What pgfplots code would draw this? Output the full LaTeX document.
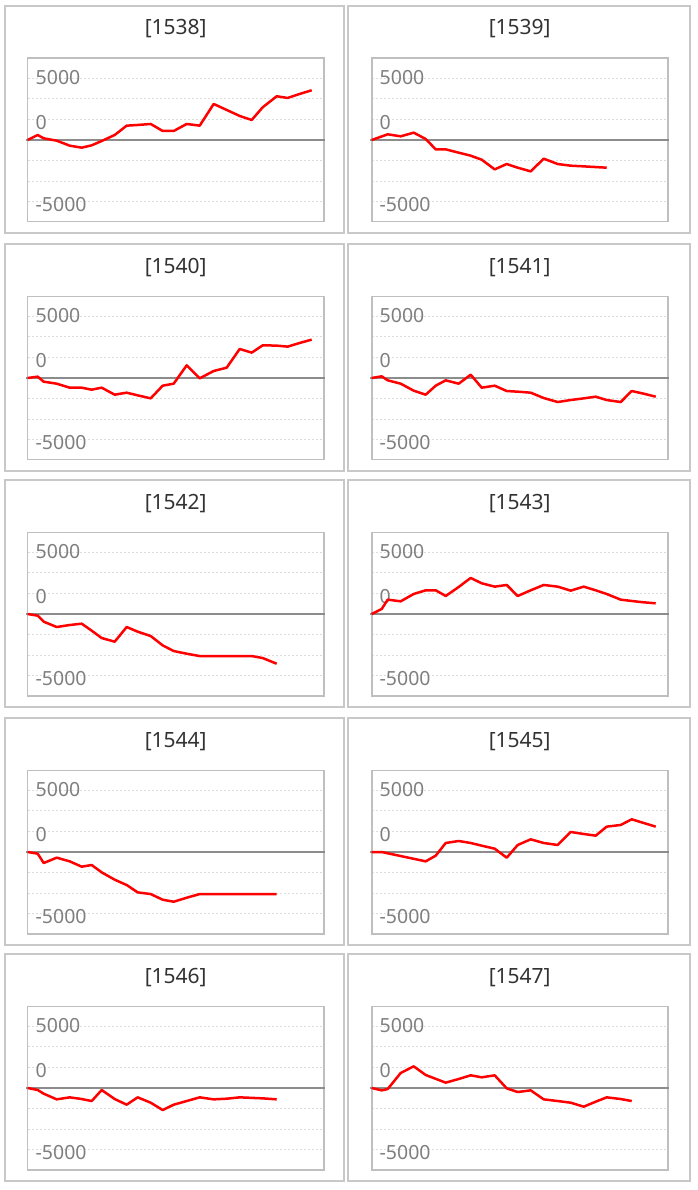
\documentclass[border=0pt]{standalone}
\usepackage{fontspec}
\setmainfont{Noto Sans}
\usepackage{pgfplots}
\pgfplotsset{compat=1.18}
\usepackage{pgfplotstable}
\definecolor{boxgray}{HTML}{C8C8C8}
\definecolor{axgray}{HTML}{BFBFBF}
\definecolor{zerogray}{HTML}{8C8C8C}
\definecolor{gridgray}{HTML}{DCDCDC}
\definecolor{lblgray}{HTML}{7F7F7F}
\definecolor{titlegray}{HTML}{333333}

\pgfplotstableread{
x v
0 0
10 405
16 135
29 -54
42 -459
54 -621
64 -432
74 -81
87 405
99 1161
110 1215
123 1296
135 729
146 729
159 1296
172 1161
186 2916
199 2430
212 1944
224 1620
235 2646
249 3537
260 3402
272 3726
284 4023
}\tA
\pgfplotstableread{
x v
0 0
16 459
29 297
42 594
54 81
64 -756
74 -756
87 -1026
99 -1269
110 -1593
123 -2376
135 -1944
146 -2241
159 -2538
172 -1512
186 -1944
199 -2079
212 -2133
235 -2241
}\tB
\pgfplotstableread{
x v
0 0
10 108
16 -297
29 -459
42 -783
54 -783
64 -945
74 -783
87 -1350
99 -1188
110 -1404
123 -1647
135 -621
146 -459
159 1026
172 -27
186 567
199 837
212 2349
224 2052
235 2646
249 2619
260 2538
272 2835
284 3105
}\tC
\pgfplotstableread{
x v
0 0
10 135
16 -189
29 -459
42 -1026
54 -1350
64 -621
74 -189
87 -459
99 270
110 -783
123 -621
135 -1053
146 -1107
159 -1188
172 -1620
186 -1944
199 -1782
212 -1647
224 -1512
235 -1782
249 -1944
260 -1053
272 -1269
284 -1512
}\tD
\pgfplotstableread{
x v
0 0
10 -135
16 -621
29 -1053
42 -891
54 -783
64 -1350
74 -1944
87 -2241
99 -1053
110 -1431
123 -1782
135 -2538
146 -2997
159 -3213
172 -3402
186 -3402
199 -3402
212 -3402
224 -3402
235 -3564
249 -4023
}\tE
\pgfplotstableread{
x v
0 0
10 405
16 1161
29 1026
42 1620
54 1917
64 1917
74 1458
87 2187
99 2916
110 2484
123 2214
135 2349
146 1458
159 1917
172 2349
186 2214
199 1890
212 2214
224 1917
235 1620
249 1161
260 1053
272 945
284 864
}\tF
\pgfplotstableread{
x v
0 0
10 -135
16 -891
29 -459
42 -756
54 -1188
64 -1053
74 -1647
87 -2241
99 -2673
110 -3267
123 -3402
135 -3861
146 -4023
159 -3699
172 -3402
186 -3402
199 -3402
212 -3402
224 -3402
235 -3402
249 -3402
}\tG
\pgfplotstableread{
x v
0 0
10 0
54 -756
64 -297
74 729
87 891
99 729
110 513
123 270
135 -459
146 567
159 1026
172 729
186 567
199 1620
212 1458
224 1323
235 2052
249 2187
260 2646
272 2349
284 2052
}\tH
\pgfplotstableread{
x v
0 0
10 -162
16 -459
29 -918
42 -756
54 -891
64 -1053
74 -162
87 -891
99 -1350
110 -756
123 -1188
135 -1782
146 -1350
159 -1053
172 -756
186 -918
199 -864
212 -756
235 -837
249 -918
}\tI
\pgfplotstableread{
x v
0 0
10 -189
16 -81
29 1215
42 1755
54 1053
74 432
87 729
99 1026
110 864
123 1026
135 -27
146 -324
159 -189
172 -918
186 -1053
199 -1188
212 -1512
224 -1107
235 -756
249 -891
260 -1053
}\tJ

\newcommand{\lblfont}{\fontsize{19.5}{22}\selectfont}
\newcommand{\ttlfont}{\fontsize{21}{24}\selectfont}

% #1 box left, #2 box right, #3 plot left, #4 row offset, #5 title, #6 table
\newcommand{\panel}[6]{%
  \draw[boxgray, line width=2pt] (#1pt,-5.8pt-#4pt) rectangle (#2pt,-233.3pt-#4pt);
  \begin{axis}[
    at={(#3pt,-58.3pt-#4pt)}, anchor=north west,
    scale only axis, width=296pt, height=163.4pt,
    xmin=0, xmax=296, ymin=-6610, ymax=6610,
    axis line style={axgray, line width=1.6pt},
    xtick=\empty,
    ytick={-5000,-3333.33,-1666.67,1666.67,3333.33,5000},
    yticklabels=\empty,
    major tick length=0pt,
    ymajorgrids,
    grid style={gridgray, line width=0.8pt, dash pattern=on 2pt off 2pt},
    clip=false,
  ]
    \draw[zerogray, line width=2pt] (axis cs:-1.5,0) -- (axis cs:297.5,0);
    \node[anchor=west, inner sep=0pt, xshift=7.8pt, yshift=1pt, text=lblgray, font=\lblfont] at (axis cs:0,5000) {5000};
    \node[anchor=west, inner sep=0pt, xshift=7.8pt, yshift=-2.7pt, text=lblgray, font=\lblfont] at (axis cs:0,1666.67) {0};
    \node[anchor=west, inner sep=0pt, xshift=7.8pt, yshift=-2.5pt, text=lblgray, font=\lblfont] at (axis cs:0,-5000) {-5000};
    \addplot[red, line width=2.5pt, line join=round, mark=none] table[x=x, y=v] {#6};
  \end{axis}
  \node[anchor=base, inner sep=0pt, text=titlegray, font=\ttlfont] at (#3pt+148pt,-35pt-#4pt) {#5};
}

\begin{document}
\begin{tikzpicture}
  \fill[white] (0,0) rectangle (697pt,-1190pt);
  \path[use as bounding box] (0,0) rectangle (697pt,-1190pt);
  \panel{5.3}{344.3}{27.7}{0}{[1538]}{\tA}
  \panel{348.3}{689.7}{371.7}{0}{[1539]}{\tB}
  \panel{5.3}{344.3}{27.7}{238}{[1540]}{\tC}
  \panel{348.3}{689.7}{371.7}{238}{[1541]}{\tD}
  \panel{5.3}{344.3}{27.7}{474}{[1542]}{\tE}
  \panel{348.3}{689.7}{371.7}{474}{[1543]}{\tF}
  \panel{5.3}{344.3}{27.7}{712}{[1544]}{\tG}
  \panel{348.3}{689.7}{371.7}{712}{[1545]}{\tH}
  \panel{5.3}{344.3}{27.7}{948}{[1546]}{\tI}
  \panel{348.3}{689.7}{371.7}{948}{[1547]}{\tJ}
\end{tikzpicture}
\end{document}
